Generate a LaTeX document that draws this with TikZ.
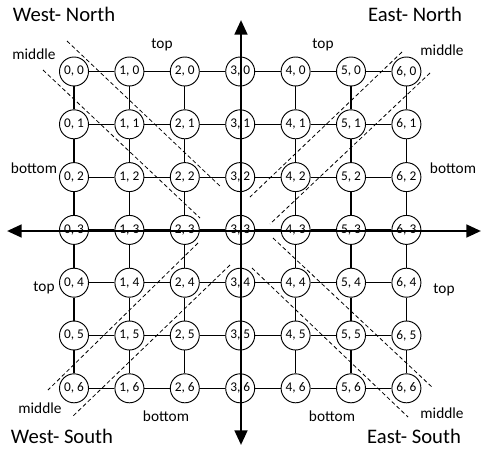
\documentclass[tikz,border=0pt]{standalone}
\usepackage{fontspec}
\setmainfont{Carlito}
\usetikzlibrary{arrows.meta}
\tikzset{cell/.style={draw,circle,fill=white,minimum size=21.75pt,inner sep=0pt,
                      line width=0.7pt,font=\fontsize{10}{12}\selectfont},
         link/.style={line width=0.9pt},
         axis/.style={line width=2pt,
                      {Triangle[length=11pt,width=9.5pt]}-{Triangle[length=11pt,width=9.5pt]}},
         split/.style={line width=0.6pt,dash pattern=on 3pt off 2pt},
         zone/.style={font=\fontsize{11.5}{14}\selectfont,inner sep=0pt},
         corner/.style={font=\fontsize{15.5}{18}\selectfont,inner sep=0pt}}

\begin{document}
\begin{tikzpicture}[x=0.75pt,y=-0.75pt]
\useasboundingbox (0,0) rectangle (481,450);

% mesh of routers
\foreach \i in {0,...,6}
  \foreach \j in {0,...,6}
    \node[cell] (n-\i-\j) at ({74+55.4*\i},{71.5+52.8*\j}) {\i, \j};
\foreach \i [count=\k] in {0,...,5}
  \foreach \j in {0,...,6} {
    \draw[link] (n-\i-\j) -- (n-\k-\j);
    \draw[link] (n-\j-\i) -- (n-\j-\k);
  }

% axes
\coordinate (north) at (241,20);
\coordinate (south) at (241,445);
\coordinate (west) at (7,231);
\coordinate (east) at (481,231);
\draw[axis] (north) -- (south);
\draw[axis] (west) -- (east);

% diagonal borders
\draw[split] (67,41) -- (221,187);
\draw[split] (43,70) -- (200,218);
\draw[split] (402,52) -- (250,197);
\draw[split] (430,73) -- (270,224);
\draw[split] (198,243) -- (48,390);
\draw[split] (230,265) -- (72,417);
\draw[split] (273,238) -- (433,388);
\draw[split] (252,268) -- (408,417);

% quadrants
\node[corner] (wn) at (64,14) {West- North};
\node[corner] (en) at (415,14) {East- North};
\node[corner] (ws) at (62,436) {West- South};
\node[corner] (es) at (414,436) {East- South};

% regions
\node[zone] (wn-top) at (162,45) {top};
\node[zone] (wn-mid) at (34,54) {middle};
\node[zone] (wn-bot) at (34,168) {bottom};
\node[zone] (en-top) at (323,45) {top};
\node[zone] (en-mid) at (442,50) {middle};
\node[zone] (en-bot) at (453,168) {bottom};
\node[zone] (ws-top) at (44,288) {top};
\node[zone] (ws-mid) at (40,408) {middle};
\node[zone] (ws-bot) at (166,416) {bottom};
\node[zone] (es-top) at (444,290) {top};
\node[zone] (es-mid) at (442,413) {middle};
\node[zone] (es-bot) at (332,416) {bottom};
\end{tikzpicture}
\end{document}
